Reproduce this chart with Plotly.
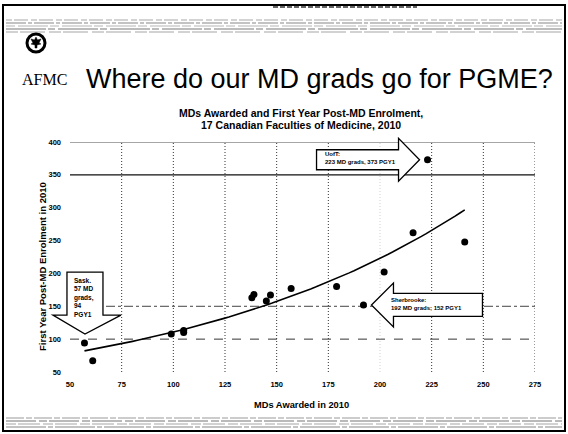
import numpy as np
import plotly.graph_objects as go

# MDs awarded vs first-year post-MD (PGY1) enrolment, 2010
md_awarded = [57, 61, 99, 105, 105, 138, 139, 145, 147, 157, 179, 192, 202, 216, 223, 241]
pgy1_enrol = [94, 67, 108, 110, 113, 163, 168, 158, 167, 177, 180, 152, 202, 262, 373, 248]

x_ticks = [50, 75, 100, 125, 150, 175, 200, 225, 250, 275]
y_ticks = [50, 100, 150, 200, 250, 300, 350, 400]

# Highlighted faculties: (name, MDs awarded, PGY1)
callouts = [("Sask.", 57, 94), ("Sherbrooke", 192, 152), ("UofT", 223, 373)]

FONT = "Arial, Liberation Sans, sans-serif"
W, H = 568, 434
L, R, T, B = 70, 33, 142, 62
PW, PH = W - L - R, H - T - B
XR = (x_ticks[0], x_ticks[-1])
YR = (y_ticks[0], y_ticks[-1])


def to_px(x, y):
    return (L + (x - XR[0]) / (XR[1] - XR[0]) * PW,
            T + (YR[1] - y) / (YR[1] - YR[0]) * PH)


def paper(px, py):
    return (px - L) / PW, (H - B - py) / PH


def poly_path(points):
    pts = [paper(px, py) for px, py in points]
    return "M " + " L ".join(f"{a:.5f},{b:.5f}" for a, b in pts) + " Z"


# Exponential trend line (least squares on log values)
b_fit, ln_a = np.polyfit(md_awarded, np.log(pgy1_enrol), 1)
x_fit = np.linspace(min(md_awarded), max(md_awarded), 80)
y_fit = np.exp(ln_a + b_fit * x_fit)

fig = go.Figure()
fig.add_trace(go.Scatter(x=x_fit, y=y_fit, mode="lines",
                         line=dict(color="black", width=1.6), hoverinfo="skip"))
fig.add_trace(go.Scatter(x=md_awarded, y=pgy1_enrol, mode="markers",
                         marker=dict(color="black", size=7)))

shapes = []
annotations = []

# Gridlines
hgrid_style = {100: dict(color="#333", width=1, dash="dash"),
               150: dict(color="#444", width=1, dash="dashdot"),
               350: dict(color="#111", width=1.2, dash="solid"),
               400: dict(color="#888", width=1.5, dash="solid")}
for yv, st in hgrid_style.items():
    shapes.append(dict(type="line", xref="paper", yref="y", x0=0, x1=1, y0=yv, y1=yv,
                       line=st, layer="below"))
for xv in x_ticks[1:]:
    col = "#d0d0d0" if xv == 200 else "#333"
    shapes.append(dict(type="line", xref="x", yref="paper", x0=xv, x1=xv, y0=0, y1=1,
                       line=dict(color=col, width=1, dash="1px,2px"), layer="below"))

arrow_line = dict(color="black", width=1.3)

# Sask.: downward block arrow above the point
px, py = to_px(callouts[0][1], callouts[0][2])
tip = py - 9
base = tip - 19
top = tip - 62
cx = px + 0.5
pts = [(cx - 18, top), (cx + 18, top), (cx + 18, base), (cx + 36, base), (cx, tip),
       (cx - 32, base), (cx - 18, base)]
shapes.append(dict(type="path", xref="paper", yref="paper", path=poly_path(pts),
                   fillcolor="white", line=arrow_line))
ax, ay = paper(cx - 13, top + 3)
annotations.append(dict(x=ax, y=ay, xref="paper", yref="paper", xanchor="left", yanchor="top",
                        align="left", showarrow=False,
                        text=f"<b>{callouts[0][0]}<br>{callouts[0][1]} MD<br>grads,<br>{callouts[0][2]}<br>PGY1</b>",
                        font=dict(family=FONT, size=6.5, color="black")))

# Sherbrooke: left-pointing block arrow right of the point
px, py = to_px(callouts[1][1], callouts[1][2])
tip = px + 8
hb = tip + 22
right = tip + 111
pts = [(tip, py), (hb, py - 22), (hb, py - 11.5), (right, py - 11.5), (right, py + 11.5),
       (hb, py + 11.5), (hb, py + 22)]
shapes.append(dict(type="path", xref="paper", yref="paper", path=poly_path(pts),
                   fillcolor="white", line=arrow_line))
ax, ay = paper(tip + 18, py - 1)
annotations.append(dict(x=ax, y=ay, xref="paper", yref="paper", xanchor="left", yanchor="middle",
                        align="left", showarrow=False,
                        text=f"<b>{callouts[1][0]}:<br>{callouts[1][1]} MD grads; {callouts[1][2]} PGY1</b>",
                        font=dict(family=FONT, size=6, color="black")))

# UofT: right-pointing block arrow left of the point
px, py = to_px(callouts[2][1], callouts[2][2])
tip = px - 8
hb = tip - 21
left = tip - 103
pts = [(tip, py), (hb, py + 21.5), (hb, py + 10), (left, py + 10), (left, py - 10),
       (hb, py - 10), (hb, py - 21.5)]
shapes.append(dict(type="path", xref="paper", yref="paper", path=poly_path(pts),
                   fillcolor="white", line=arrow_line))
ax, ay = paper(left + 6, py - 1.5)
annotations.append(dict(x=ax, y=ay, xref="paper", yref="paper", xanchor="left", yanchor="middle",
                        align="left", showarrow=False,
                        text=f"<b>{callouts[2][0]}:<br>{callouts[2][1]} MD grads, {callouts[2][2]} PGY1</b>",
                        font=dict(family=FONT, size=6, color="black")))

# Slide frame
x0, y0 = paper(3, 5)
x1, y1 = paper(565, 431)
shapes.append(dict(type="rect", xref="paper", yref="paper", x0=x0, y0=y0, x1=x1, y1=y1,
                   line=dict(color="black", width=2)))

# Header and footer bands of faint text lines
band_rows = [(20, "#a8a8a8", "6px,2px,14px,3px"), (23, "#888", "20px,2px,4px,2px"),
             (26, "#b5b5b5", "9px,3px,30px,2px"), (29, "#7a7a7a", "40px,2px,7px,3px"),
             (32, "#a5a5a5", "12px,2px,25px,4px"),
             (418, "#999", "18px,2px,6px,2px"), (421, "#777", "30px,3px,8px,2px"),
             (424, "#a5a5a5", "10px,2px,22px,3px"), (427, "#888", "40px,2px,5px,2px")]
for yy, col, dash in band_rows:
    a, b = paper(6, yy)
    c, _ = paper(562, yy)
    shapes.append(dict(type="line", xref="paper", yref="paper", x0=a, x1=c, y0=b, y1=b,
                       line=dict(color=col, width=1.2, dash=dash)))
a, b = paper(273, 7)
c, _ = paper(417, 7)
shapes.append(dict(type="line", xref="paper", yref="paper", x0=a, x1=c, y0=b, y1=b,
                   line=dict(color="#333", width=1.5, dash="5px,2px")))

# Logo: ringed emblem with a leaf
lx, ly = 36, 43
a, b = paper(lx - 9, ly + 9)
c, d = paper(lx + 9, ly - 9)
shapes.append(dict(type="circle", xref="paper", yref="paper", x0=a, y0=b, x1=c, y1=d,
                   fillcolor="white", line=dict(color="black", width=3)))
leaf = [(lx, ly - 6), (lx + 1.5, ly - 3), (lx + 5, ly - 4), (lx + 3, ly), (lx + 5, ly + 1),
        (lx + 1, ly + 2), (lx + 1, ly + 5), (lx - 1, ly + 5), (lx - 1, ly + 2), (lx - 5, ly + 1),
        (lx - 3, ly), (lx - 5, ly - 4), (lx - 1.5, ly - 3)]
shapes.append(dict(type="path", xref="paper", yref="paper", path=poly_path(leaf),
                   fillcolor="black", line=dict(color="black", width=0.5)))


def text_at(px_, py_, txt, size, anchor="center", family=FONT, angle=0):
    a_, b_ = paper(px_, py_)
    annotations.append(dict(x=a_, y=b_, xref="paper", yref="paper", xanchor=anchor,
                            yanchor="middle", showarrow=False, text=txt, textangle=angle,
                            font=dict(family=family, size=size, color="black")))


text_at(20, 79, "AFMC", 16, anchor="left", family="Liberation Serif, serif")
text_at(319, 79, "Where do our MD grads go for PGME?", 27)
text_at(301, 113, "<b>MDs Awarded and First Year Post-MD Enrolment,</b>", 10.5)
text_at(301, 125, "<b>17 Canadian Faculties of Medicine, 2010</b>", 10.5)
text_at(301, 405, "<b>MDs Awarded in 2010</b>", 9.3)
text_at(42, 267, "<b>First Year Post-MD Enrolment in 2010</b>", 9.5, angle=-90)

fig.update_layout(
    width=W, height=H, margin=dict(l=L, r=R, t=T, b=B),
    paper_bgcolor="white", plot_bgcolor="white", showlegend=False,
    shapes=shapes, annotations=annotations,
    xaxis=dict(range=list(XR), tickvals=x_ticks, showgrid=False, zeroline=False,
               showline=False, ticks="", ticklabelstandoff=6,
               tickfont=dict(family=FONT, size=7.5, color="black", weight="bold")),
    yaxis=dict(range=list(YR), tickvals=y_ticks, showgrid=False, zeroline=False,
               showline=False, ticks="", ticklabelstandoff=8,
               tickfont=dict(family=FONT, size=7.5, color="black", weight="bold")),
)

fig.write_html("out.html")
